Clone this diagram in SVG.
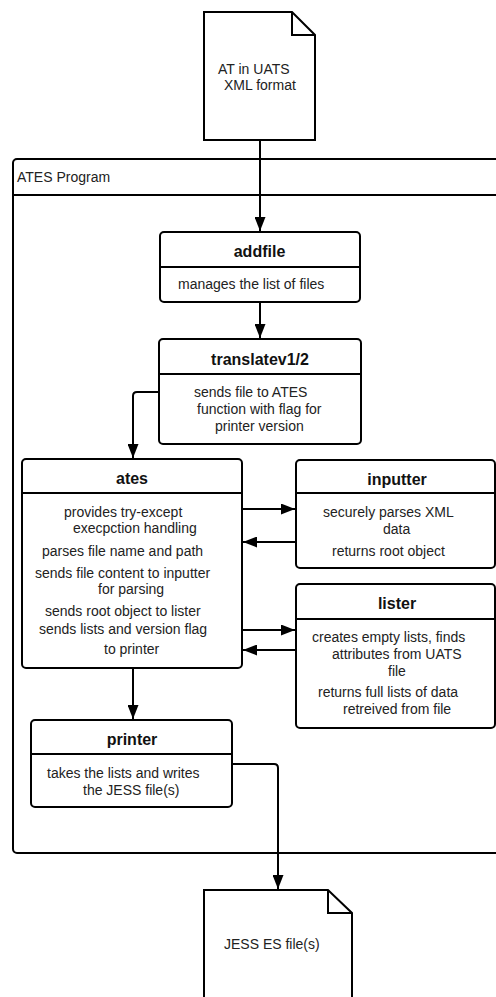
<svg xmlns="http://www.w3.org/2000/svg" width="496" height="997" viewBox="0 0 496 997">
<defs>
<marker id="arr" viewBox="0 0 14 11" refX="14" refY="5.5" markerWidth="14" markerHeight="11" markerUnits="userSpaceOnUse" orient="auto">
<path d="M0,0 L14,5.5 L0,11 Z" fill="#000"/>
</marker>
<style>
.box{fill:#fff;stroke:#000;stroke-width:2}
.ln{fill:none;stroke:#000;stroke-width:2}
.con{fill:none;stroke:#000;stroke-width:2;marker-end:url(#arr)}
.t{font-family:"Liberation Sans",Arial,sans-serif;font-size:14px;fill:#222}
.h{font-family:"Liberation Sans",Arial,sans-serif;font-size:16px;font-weight:bold;fill:#111;text-anchor:middle}
</style>
</defs>
<rect width="496" height="997" fill="#fff"/>

<g id="container">
<rect class="box" x="13" y="159" width="500" height="694" rx="4"/>
<line class="ln" x1="13" y1="195" x2="500" y2="195"/>
<text class="t" x="17" y="182">ATES Program</text>
</g>

<g id="doc-in">
<path class="box" d="M204,12 L292,12 L315,35 L315,140 L204,140 Z"/>
<path class="ln" d="M292,12 L292,35 L315,35"/>
<text class="t" x="218" y="74">AT in UATS</text>
<text class="t" x="224" y="90">XML format</text>
</g>

<g id="doc-out">
<path class="box" d="M204,890 L328,890 L352,913 L352,1002 L204,1002 Z"/>
<path class="ln" d="M328,890 L328,913 L352,913"/>
<text class="t" x="224" y="949">JESS ES file(s)</text>
</g>

<g id="addfile">
<rect class="box" x="160" y="232" width="200" height="70" rx="4"/>
<line class="ln" x1="160" y1="267" x2="360" y2="267"/>
<text class="h" x="259.5" y="257">addfile</text>
<text class="t" x="178" y="289">manages the list of files</text>
</g>

<g id="translate">
<rect class="box" x="159" y="339" width="202" height="105" rx="4"/>
<line class="ln" x1="159" y1="374" x2="361" y2="374"/>
<text class="h" x="260" y="365">translatev1/2</text>
<text class="t" x="194" y="397">sends file to ATES</text>
<text class="t" x="197" y="414">function with flag for</text>
<text class="t" x="215" y="431">printer version</text>
</g>

<g id="ates">
<rect class="box" x="22" y="459" width="220" height="209" rx="4"/>
<line class="ln" x1="22" y1="493" x2="242" y2="493"/>
<text class="h" x="132" y="484">ates</text>
<text class="t" x="64" y="517">provides try-except</text>
<text class="t" x="73" y="533">execpction handling</text>
<text class="t" x="42" y="556">parses file name and path</text>
<text class="t" x="35" y="578">sends file content to inputter</text>
<text class="t" x="98" y="594">for parsing</text>
<text class="t" x="45" y="616">sends root object to lister</text>
<text class="t" x="39" y="634">sends lists and version flag</text>
<text class="t" x="104" y="654">to printer</text>
</g>

<g id="inputter">
<rect class="box" x="296" y="460" width="199" height="108" rx="4"/>
<line class="ln" x1="296" y1="493" x2="495" y2="493"/>
<text class="h" x="397" y="485">inputter</text>
<text class="t" x="323" y="517">securely parses XML</text>
<text class="t" x="383" y="534">data</text>
<text class="t" x="332" y="556">returns root object</text>
</g>

<g id="lister">
<rect class="box" x="296" y="584" width="199" height="144" rx="4"/>
<line class="ln" x1="296" y1="619" x2="495" y2="619"/>
<text class="h" x="397" y="609">lister</text>
<text class="t" x="312" y="642">creates empty lists, finds</text>
<text class="t" x="332" y="659">attributes from UATS</text>
<text class="t" x="388" y="676">file</text>
<text class="t" x="318" y="697">returns full lists of data</text>
<text class="t" x="343" y="714">retreived from file</text>
</g>

<g id="printer">
<rect class="box" x="31" y="720" width="201" height="87" rx="4"/>
<line class="ln" x1="31" y1="754" x2="232" y2="754"/>
<text class="h" x="132" y="745">printer</text>
<text class="t" x="47" y="778">takes the lists and writes</text>
<text class="t" x="83" y="795">the JESS file(s)</text>
</g>

<g id="connectors">
<path class="con" d="M260,140 L260,231"/>
<path class="con" d="M260,302 L260,338"/>
<path class="con" d="M159,392 L137,392 Q133,392 133,396 L133,458"/>
<path class="con" d="M242,509 L295,509"/>
<path class="con" d="M296,542 L243,542"/>
<path class="con" d="M242,630 L295,630"/>
<path class="con" d="M296,650 L243,650"/>
<path class="con" d="M133,668 L133,719"/>
<path class="con" d="M232,764 L274,764 Q278,764 278,768 L278,889"/>
</g>
</svg>
